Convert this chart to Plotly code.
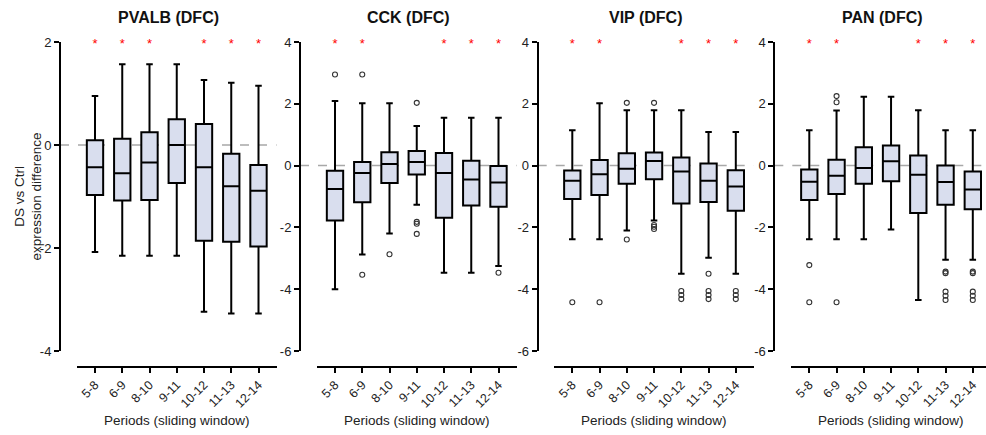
import plotly.graph_objects as go

W, H = 986, 435

periods = ["5-8", "6-9", "8-10", "9-11", "10-12", "11-13", "12-14"]

titles = ["PVALB (DFC)", "CCK (DFC)", "VIP (DFC)", "PAN (DFC)"]

# PVALB
pvalb_upper = [0.95, 1.57, 1.57, 1.57, 1.26, 1.21, 1.15]
pvalb_q3 = [0.09, 0.12, 0.25, 0.50, 0.41, -0.17, -0.39]
pvalb_med = [-0.43, -0.55, -0.34, 0.00, -0.43, -0.80, -0.89]
pvalb_q1 = [-0.97, -1.08, -1.07, -0.74, -1.86, -1.88, -1.97]
pvalb_lower = [-2.08, -2.15, -2.15, -2.15, -3.24, -3.27, -3.27]
pvalb_out = [[], [], [], [], [], [], []]
pvalb_sig = [1, 1, 1, 0, 1, 1, 1]

# CCK
cck_upper = [2.09, 2.02, 2.02, 1.28, 1.55, 1.55, 1.55]
cck_q3 = [-0.17, 0.12, 0.43, 0.47, 0.41, 0.16, -0.01]
cck_med = [-0.76, -0.24, 0.05, 0.12, -0.24, -0.45, -0.55]
cck_q1 = [-1.78, -1.19, -0.56, -0.29, -1.69, -1.29, -1.33]
cck_lower = [-4.00, -2.88, -2.20, -1.27, -3.47, -3.47, -3.25]
cck_out = [[2.95], [2.95, -3.53], [-2.87], [2.03, -1.82, -1.88, -2.21], [], [], [-3.47]]
cck_sig = [1, 1, 0, 0, 1, 1, 1]

# VIP
vip_upper = [1.14, 2.02, 1.79, 1.79, 1.79, 1.09, 1.09]
vip_q3 = [-0.16, 0.18, 0.40, 0.42, 0.26, 0.07, -0.15]
vip_med = [-0.49, -0.28, -0.10, 0.15, -0.19, -0.49, -0.68]
vip_q1 = [-1.08, -0.95, -0.59, -0.44, -1.23, -1.18, -1.46]
vip_lower = [-2.38, -2.38, -2.10, -1.78, -3.50, -2.98, -3.50]
vip_out = [[-4.42], [-4.42], [2.03, -2.39], [2.03, -1.92, -1.98, -2.05],
           [-4.06, -4.19, -4.32], [-3.50, -4.06, -4.19, -4.32], [-4.06, -4.19, -4.32]]
vip_sig = [1, 1, 0, 0, 1, 1, 1]

# PAN
pan_upper = [1.14, 1.78, 2.23, 2.23, 1.79, 1.14, 1.14]
pan_q3 = [-0.13, 0.19, 0.59, 0.65, 0.33, 0.00, -0.19]
pan_med = [-0.52, -0.33, -0.08, 0.14, -0.30, -0.53, -0.77]
pan_q1 = [-1.11, -0.92, -0.59, -0.51, -1.53, -1.27, -1.41]
pan_lower = [-2.38, -2.38, -2.38, -2.07, -4.35, -3.05, -3.05]
pan_out = [[-3.22, -4.42], [2.25, 2.05, -4.42], [], [], [],
           [-3.43, -3.48, -4.08, -4.21, -4.35], [-3.43, -3.48, -4.08, -4.21, -4.35]]
pan_sig = [1, 1, 0, 0, 1, 1, 1]

y_ranges = [[-4, 2], [-6, 4], [-6, 4], [-6, 4]]
y_ticks = [[-4, -2, 0, 2], [-6, -4, -2, 0, 2, 4], [-6, -4, -2, 0, 2, 4], [-6, -4, -2, 0, 2, 4]]

panels = [
    (pvalb_q1, pvalb_med, pvalb_q3, pvalb_lower, pvalb_upper, pvalb_out, pvalb_sig),
    (cck_q1, cck_med, cck_q3, cck_lower, cck_upper, cck_out, cck_sig),
    (vip_q1, vip_med, vip_q3, vip_lower, vip_upper, vip_out, vip_sig),
    (pan_q1, pan_med, pan_q3, pan_lower, pan_upper, pan_out, pan_sig),
]

# layout geometry (pixels)
first_box_px = [95.0, 335.0, 572.3, 809.3]
yaxis_px = [60.0, 300.0, 537.7, 774.3]
spacing = 27.25
pad = 18.0
y_top_px, y_bot_px = 42.0, 351.0
xline_px = 366.7
star_drop_px = 2.5

FONT = "Liberation Sans, Arial, sans-serif"
fill = "#D9DEEE"

fig = go.Figure()
layout = dict(
    width=W, height=H, margin=dict(l=0, r=0, t=0, b=0, autoexpand=False),
    plot_bgcolor="white", paper_bgcolor="white", showlegend=False,
    font=dict(family=FONT, color="#222"),
)
shapes = []
annotations = []

for i, (q1, med, q3, lo, up, outs, sig) in enumerate(panels):
    n = i + 1
    xa = "x" if n == 1 else f"x{n}"
    ya = "y" if n == 1 else f"y{n}"
    c0 = first_box_px[i]
    d0 = c0 - pad
    d1 = min(c0 + 6 * spacing + pad, W)
    rng = [-pad / spacing, (d1 - c0) / spacing]

    fig.add_trace(go.Box(
        x=periods, q1=q1, median=med, q3=q3, lowerfence=lo, upperfence=up,
        fillcolor=fill, line=dict(color="black", width=2), whiskerwidth=0.4,
        width=0.6, boxpoints=False, xaxis=xa, yaxis=ya,
    ))
    ox, oy = [], []
    for k, vals in enumerate(outs):
        for v in vals:
            ox.append(periods[k])
            oy.append(v)
    if ox:
        fig.add_trace(go.Scatter(
            x=ox, y=oy, mode="markers", xaxis=xa, yaxis=ya,
            marker=dict(symbol="circle-open", size=5, color="#333",
                        line=dict(width=1.1, color="#333")),
        ))
    units_per_px = (y_ranges[i][1] - y_ranges[i][0]) / (y_bot_px - y_top_px)
    sx = [periods[k] for k, s in enumerate(sig) if s]
    sy = [y_ranges[i][1] - star_drop_px * units_per_px] * len(sx)
    fig.add_trace(go.Scatter(
        x=sx, y=sy, mode="text", text=["*"] * len(sx), xaxis=xa, yaxis=ya,
        textposition="middle center", cliponaxis=False,
        textfont=dict(color="red", size=13, family=FONT),
    ))

    key_x = "xaxis" if n == 1 else f"xaxis{n}"
    key_y = "yaxis" if n == 1 else f"yaxis{n}"
    layout[key_x] = dict(
        domain=[d0 / W, d1 / W], range=rng, type="category",
        categoryorder="array", categoryarray=periods,
        anchor="free", position=1 - xline_px / H, automargin=False,
        showline=True, linecolor="black", linewidth=2,
        ticks="outside", ticklen=5, tickwidth=2, tickcolor="black",
        tickangle=-45, tickfont=dict(size=12.5, family=FONT, color="#222"),
        showgrid=False, zeroline=False, fixedrange=True,
    )
    layout[key_y] = dict(
        domain=[1 - y_bot_px / H, 1 - y_top_px / H], range=y_ranges[i],
        anchor="free", position=yaxis_px[i] / W, automargin=False,
        tickvals=y_ticks[i], ticktext=[str(t) for t in y_ticks[i]],
        showline=True, linecolor="black", linewidth=2,
        ticks="outside", ticklen=5, tickwidth=2, tickcolor="black",
        tickfont=dict(size=13, family=FONT, color="#222"),
        showgrid=False, zeroline=False, fixedrange=True,
    )
    shapes.append(dict(
        type="line", xref="paper", yref=ya, x0=yaxis_px[i] / W, x1=d1 / W,
        y0=0, y1=0, layer="below",
        line=dict(color="#A8A8A8", width=1.5, dash="dash"),
    ))
    annotations.append(dict(
        text=f"<b>{titles[i]}</b>", xref="paper", yref="paper",
        x=(yaxis_px[i] + c0 + 6 * spacing + pad) / 2 / W, y=1 - 17 / H,
        showarrow=False, font=dict(size=16, family=FONT, color="#111"),
        xanchor="center", yanchor="middle",
    ))
    annotations.append(dict(
        text="Periods (sliding window)", xref="paper", yref="paper",
        x=(d0 + c0 + 6 * spacing + pad) / 2 / W, y=1 - 420 / H,
        showarrow=False, font=dict(size=13.5, family=FONT, color="#222"),
        xanchor="center", yanchor="middle",
    ))

annotations.append(dict(
    text="DS vs Ctrl<br>expression difference", xref="paper", yref="paper",
    x=28 / W, y=1 - 196.5 / H, textangle=-90, showarrow=False,
    font=dict(size=13.5, family=FONT, color="#222"),
    xanchor="center", yanchor="middle",
))

layout["shapes"] = shapes
layout["annotations"] = annotations
fig.update_layout(**layout)

pin_js = (
    "document.documentElement.style.margin='0';"
    "document.body.style.margin='0';document.body.style.overflow='hidden';"
    "var gd=document.getElementById('{plot_id}');"
    "gd.style.position='fixed';gd.style.left='0px';gd.style.top='0px';"
)
fig.write_html("out.html", post_script=pin_js,
               config={"displayModeBar": False, "staticPlot": True})
